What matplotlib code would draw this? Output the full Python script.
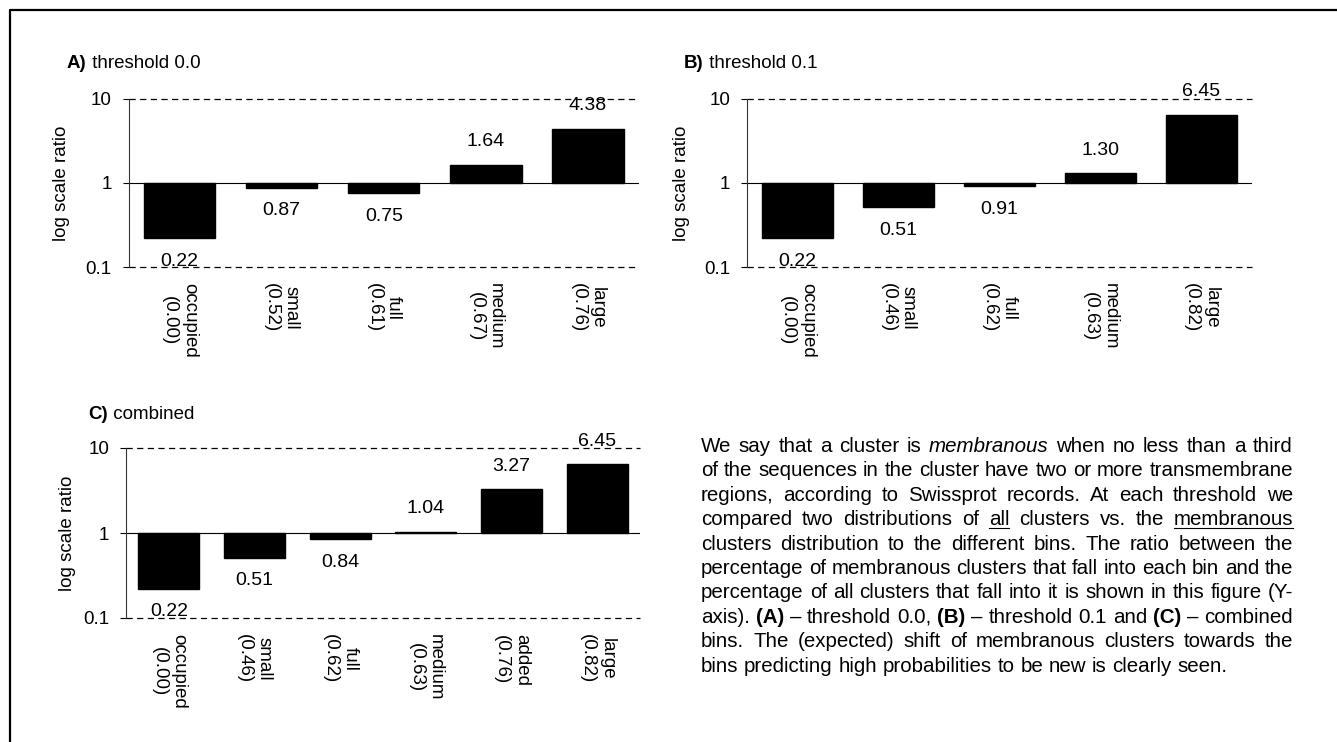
import matplotlib
matplotlib.use('Agg')
import matplotlib.pyplot as plt
import numpy as np
from matplotlib.ticker import NullLocator
from matplotlib.lines import Line2D

plt.rcParams['font.family'] = ['Liberation Sans', 'DejaVu Sans']

# ---- data ----
cats_a = ['occupied\n(0.00)', 'small\n(0.52)', 'full\n(0.61)', 'medium\n(0.67)', 'large\n(0.76)']
vals_a = [0.22, 0.87, 0.75, 1.64, 4.38]

cats_b = ['occupied\n(0.00)', 'small\n(0.46)', 'full\n(0.62)', 'medium\n(0.63)', 'large\n(0.82)']
vals_b = [0.22, 0.51, 0.91, 1.30, 6.45]

cats_c = ['occupied\n(0.00)', 'small\n(0.46)', 'full\n(0.62)', 'medium\n(0.63)', 'added\n(0.76)', 'large\n(0.82)']
vals_c = [0.22, 0.51, 0.84, 1.04, 3.27, 6.45]

yticks = [0.1, 1, 10]
ytick_labels = ['0.1', '1', '10']

# caption, one list of (word, style) per printed line
caption = [
    [('We', ''), ('say', ''), ('that', ''), ('a', ''), ('cluster', ''), ('is', ''), ('membranous', 'i'),
     ('when', ''), ('no', ''), ('less', ''), ('than', ''), ('a', ''), ('third', '')],
    [('of', ''), ('the', ''), ('sequences', ''), ('in', ''), ('the', ''), ('cluster', ''), ('have', ''),
     ('two', ''), ('or', ''), ('more', ''), ('transmembrane', '')],
    [('regions,', ''), ('according', ''), ('to', ''), ('Swissprot', ''), ('records.', ''), ('At', ''),
     ('each', ''), ('threshold', ''), ('we', '')],
    [('compared', ''), ('two', ''), ('distributions', ''), ('of', ''), ('all', 'u'), ('clusters', ''),
     ('vs.', ''), ('the', ''), ('membranous', 'u')],
    [('clusters', ''), ('distribution', ''), ('to', ''), ('the', ''), ('different', ''), ('bins.', ''),
     ('The', ''), ('ratio', ''), ('between', ''), ('the', '')],
    [('percentage', ''), ('of', ''), ('membranous', ''), ('clusters', ''), ('that', ''), ('fall', ''),
     ('into', ''), ('each', ''), ('bin', ''), ('and', ''), ('the', '')],
    [('percentage', ''), ('of', ''), ('all', ''), ('clusters', ''), ('that', ''), ('fall', ''), ('into', ''),
     ('it', ''), ('is', ''), ('shown', ''), ('in', ''), ('this', ''), ('figure', ''), ('(Y-', '')],
    [('axis).', ''), ('(A)', 'b'), ('\u2013', ''), ('threshold', ''), ('0.0,', ''), ('(B)', 'b'), ('\u2013', ''),
     ('threshold', ''), ('0.1', ''), ('and', ''), ('(C)', 'b'), ('\u2013', ''), ('combined', '')],
    [('bins.', ''), ('The', ''), ('(expected)', ''), ('shift', ''), ('of', ''), ('membranous', ''),
     ('clusters', ''), ('towards', ''), ('the', '')],
    [('bins', ''), ('predicting', ''), ('high', ''), ('probabilities', ''), ('to', ''), ('be', ''), ('new', ''),
     ('is', ''), ('clearly', ''), ('seen.', '')],
]

W, H = 1337, 742
fig = plt.figure(figsize=(W / 100, H / 100), dpi=100)
renderer = fig.canvas.get_renderer()


def fx(px):
    return px / W


def fy(py):
    return 1 - py / H


def panel(l, t, r, b, cats, vals, width):
    ax = fig.add_axes([fx(l), fy(b), (r - l) / W, (b - t) / H])
    x = np.arange(len(vals))
    v = np.array(vals)
    ax.bar(x, v - 1, bottom=1, width=width, color='black', edgecolor='black', zorder=3)
    ax.set_yscale('log')
    ax.set_ylim(0.1, 10)
    ax.set_xlim(-0.5, len(vals) - 0.5)
    ax.set_yticks(yticks, ytick_labels)
    ax.yaxis.set_minor_locator(NullLocator())
    # dashed lines at the top and bottom decade, solid category axis crossing at 1
    for yv in (0.1, 10):
        ax.axhline(yv, color='black', linestyle=(0, (5, 3.5)), linewidth=0.9, clip_on=False, zorder=2)
    ax.axhline(1, color='black', linewidth=0.8, zorder=2)
    for s in ['top', 'right', 'bottom']:
        ax.spines[s].set_visible(False)
    ax.spines['left'].set_linewidth(0.8)
    ax.spines['left'].set_color('#333333')
    ax.tick_params(axis='y', length=4, width=0.8, pad=8, labelsize=13.5)
    ax.set_xticks(x, cats, rotation=-90, va='top', ha='center', multialignment='center', fontsize=13.5)
    ax.tick_params(axis='x', length=0, pad=11.5)
    for xi, vi in zip(x, vals):
        off = 16.5 if vi >= 1 else -16.5
        ax.annotate(f'{vi:.2f}', (xi, vi), xytext=(0, off), textcoords='offset points',
                    ha='center', va='center', fontsize=14)
    return ax


def title(px, py, letter, rest):
    t = fig.text(fx(px), fy(py), letter, weight='bold', fontsize=13.5, va='baseline')
    w = t.get_window_extent(renderer).width
    fig.text(fx(px + w), fy(py), rest, fontsize=13.5, va='baseline')


panel(128.5, 98.5, 639, 267, cats_a, vals_a, 0.7)
panel(747, 98.5, 1252, 267, cats_b, vals_b, 0.7)
panel(126, 448, 640, 618, cats_c, vals_c, 0.71)

for px, py in [(61, 183), (681, 183), (67, 533)]:
    fig.text(fx(px), fy(py), 'log scale ratio', rotation=90, ha='center', va='center', fontsize=13.5)

title(67, 68, 'A)', ' threshold 0.0')
title(684, 68, 'B)', ' threshold 0.1')
title(88, 419, 'C)', ' combined')


# ---- justified caption ----
def word_width(word, style, size):
    kw = {'fontsize': size}
    if style == 'i':
        kw['style'] = 'italic'
    if style == 'b':
        kw['weight'] = 'bold'
    t = fig.text(0, 0, word, **kw)
    w = t.get_window_extent(renderer).width
    t.remove()
    return w, kw


x0, x1 = 701, 1293
y0, dy = 452, 24.4
base = 13
last_w = sum(word_width(w, s, base)[0] for w, s in caption[-1])
sp = word_width('x x', '', base)[0] - word_width('xx', '', base)[0]
last_w += sp * (len(caption[-1]) - 1)
size = base * 527 / last_w
space = sp * size / base

for i, line in enumerate(caption):
    widths = [word_width(w, s, size) for w, s in line]
    total = sum(w for w, _ in widths)
    if i < len(caption) - 1:
        gap = (x1 - x0 - total) / (len(line) - 1)
    else:
        gap = space
    xp = x0
    yp = y0 + i * dy
    for (word, style), (w, kw) in zip(line, widths):
        fig.text(fx(xp), fy(yp), word, va='baseline', ha='left', **kw)
        if style == 'u':
            fig.add_artist(Line2D([fx(xp), fx(xp + w)], [fy(yp + 3), fy(yp + 3)],
                                  transform=fig.transFigure, color='black', lw=0.8))
        xp += w + gap

# frame of the scanned figure
fig.add_artist(Line2D([fx(10), fx(10), 1], [0, fy(10), fy(10)], transform=fig.transFigure,
                      color='black', lw=1.6))

fig.savefig('out.png', dpi=100)
